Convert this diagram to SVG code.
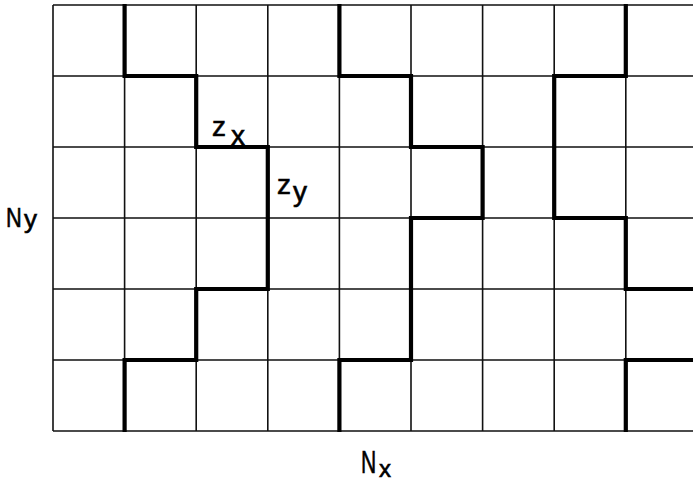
<svg xmlns="http://www.w3.org/2000/svg" width="693" height="483" viewBox="0 0 693 483">
<style>
.g{stroke:#111;stroke-width:1.6;fill:none}
.t{stroke:#000;stroke-width:4.2;fill:none;stroke-linejoin:miter;stroke-linecap:square}
.l{font-family:"Liberation Sans",Arial,sans-serif;fill:#000;stroke:#000;stroke-width:0.6}
</style>
<rect width="693" height="483" fill="#fff"/>
<g id="grid" class="g">
<path d="M53,5H693M53,76H693M53,147H693M53,218H693M53,289H693M53,360H693M53,431H693"/>
<path d="M53,5V431M124.6,5V431M196.2,5V431M267.8,5V431M339.4,5V431M411,5V431M482.6,5V431M554.2,5V431M625.8,5V431"/>
</g>
<g id="walls" class="t">
<path d="M124.6,6V76H196.2V147H267.8V289H196.2V360H124.6V430"/>
<path d="M339.4,6V76H411V147H482.6V218H411V360H339.4V430"/>
<path d="M625.8,6V76H554.2V218H625.8V289H693"/>
<path d="M693,360H625.8V430"/>
</g>
<g id="labels" class="l">
<text x="212" y="136" font-size="28">z</text>
<text x="231" y="145" font-size="28">x</text>
<text x="277" y="194" font-size="28">z</text>
<text x="293" y="201" font-size="28">y</text>
<text transform="translate(6,227) scale(0.78,1)" font-size="28">N</text>
<text x="24" y="228" font-size="26">y</text>
<text transform="translate(361,473) scale(0.68,1)" font-size="31">N</text>
<text x="379" y="477" font-size="24">x</text>
</g>
</svg>
